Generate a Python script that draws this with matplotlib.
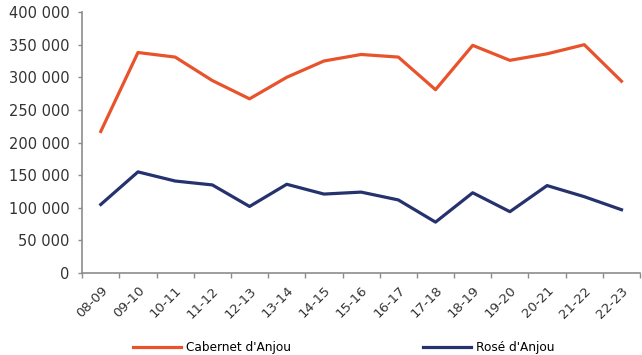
#!/usr/bin/env python3
"""Cabernet d'Anjou vs Rosé d'Anjou, by campaign."""
import matplotlib
matplotlib.use("Agg")
import matplotlib.pyplot as plt
import numpy as np
from matplotlib.ticker import FuncFormatter

campaigns = ["08-09", "09-10", "10-11", "11-12", "12-13", "13-14", "14-15", "15-16",
             "16-17", "17-18", "18-19", "19-20", "20-21", "21-22", "22-23"]
cabernet = [217000, 338000, 331000, 295000, 267000, 300000, 325000, 335000,
            331000, 281000, 349000, 326000, 336000, 350000, 294000]
rose = [105000, 155000, 141000, 135000, 102000, 136000, 121000, 124000,
        112000, 78000, 123000, 94000, 134000, 117000, 97000]

ORANGE = "#E8532B"
NAVY = "#26326E"
GREY = "#8C8C8C"
TEXT = "#333333"

plt.rcParams["font.family"] = ["DejaVu Sans"]

fig = plt.figure(figsize=(6.42, 3.55), dpi=100)
ax = fig.add_axes([0.128, 0.231, 0.869, 0.735])

x = np.arange(len(campaigns))
ax.plot(x, cabernet, color=ORANGE, linewidth=2.3, label="Cabernet d'Anjou", solid_joinstyle="round")
ax.plot(x, rose, color=NAVY, linewidth=2.3, label="Rosé d'Anjou", solid_joinstyle="round")

ax.set_xlim(-0.5, len(campaigns) - 0.5)
ax.set_ylim(0, 400000)
ax.set_yticks(np.arange(0, 400001, 50000))
ax.yaxis.set_major_formatter(FuncFormatter(lambda v, _: f"{int(v):,}".replace(",", " ")))

# labels sit on the categories, tick marks sit between them
ax.set_xticks(x)
ax.set_xticklabels(campaigns, rotation=45, ha="right", rotation_mode="anchor")
ax.set_xticks(np.arange(-0.5, len(campaigns)), minor=True)
ax.tick_params(axis="x", which="major", length=0, pad=8, labelsize=9.5, labelcolor=TEXT)
ax.tick_params(axis="x", which="minor", length=3.5, color=GREY, width=1)
ax.tick_params(axis="y", length=3, color=GREY, width=1, pad=6, labelsize=10.5, labelcolor=TEXT)

for side in ("top", "right"):
    ax.spines[side].set_visible(False)
for side in ("left", "bottom"):
    ax.spines[side].set_color(GREY)
    ax.spines[side].set_linewidth(1.2)

fig.legend(loc="center", bbox_to_anchor=(0.535, 0.02), ncol=2, frameon=False,
           fontsize=8.7, handlelength=4.0, columnspacing=10.9, handletextpad=0.4,
           borderpad=0.0)

fig.savefig("out.png", dpi=100)
